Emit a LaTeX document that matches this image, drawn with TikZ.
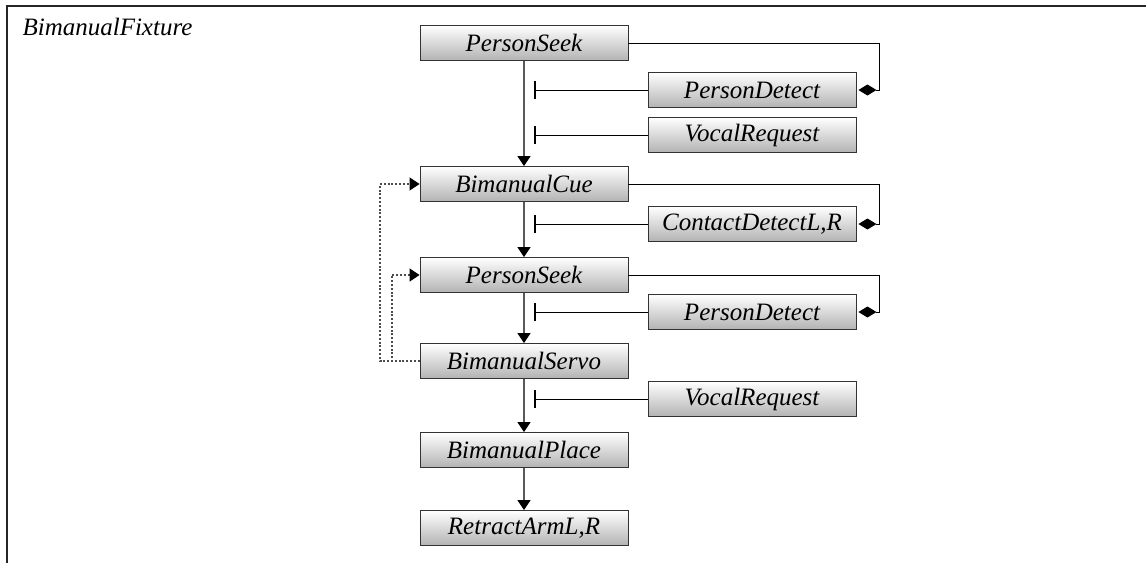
\documentclass[tikz,border=0pt]{standalone}
\usepackage{fontspec}
\setmainfont{Liberation Serif}
\usetikzlibrary{arrows.meta,calc}

\tikzset{
  stepbox/.style={draw=black!80, line width=0.9pt, top color=white, bottom color=black!30,
    minimum width=208pt, minimum height=35pt, inner sep=0pt,
    font=\fontsize{25}{30}\selectfont\itshape},
  seq/.style={draw=black!65, line width=1.2pt, -{Triangle[length=10pt,width=13pt,black]}},
  inhibit/.style={draw=black, line width=1pt, -{Bar[width=18pt,line width=2pt]}},
  attach/.style={draw=black, line width=1pt, -{Diamond[length=18pt,width=11pt,black]}, shorten >=2pt},
  retry/.style={draw=black!70, line width=1.2pt, dash pattern=on 2pt off 1.8pt,
    -{Triangle[length=10pt,width=13pt,black]}},
}

\begin{document}
\begin{tikzpicture}[x=1pt,y=-1pt]
  \useasboundingbox (0,0) rectangle (1146,563);

  % enclosing frame
  \draw[black!85, line width=1.4pt] (7,563) -- (7,6) -- (1146,6);
  \node[anchor=base west, font=\fontsize{25}{30}\selectfont\itshape] (title) at (19,35) {BimanualFixture};

  % main sequence
  \node[stepbox] (ps1) at (524,43) {PersonSeek};
  \node[stepbox] (bc)  at (524,184) {BimanualCue};
  \node[stepbox] (ps2) at (524,275) {PersonSeek};
  \node[stepbox] (bs)  at (524,361) {BimanualServo};
  \node[stepbox] (bp)  at (524,450) {BimanualPlace};
  \node[stepbox] (ra)  at (524,528) {RetractArmL,R};

  % monitors
  \node[stepbox] (pd1) at (752,90)  {PersonDetect};
  \node[stepbox] (vr1) at (752,135) {VocalRequest};
  \node[stepbox] (cd)  at (752,224) {ContactDetectL,R};
  \node[stepbox] (pd2) at (752,312) {PersonDetect};
  \node[stepbox] (vr2) at (752,399) {VocalRequest};

  \coordinate (bar) at (534,0);
  \coordinate (rx)  at (879,0);
  \coordinate (lx1) at (380,0);
  \coordinate (lx2) at (392,0);

  % transitions
  \draw[seq] (ps1.south) -- (bc.north);
  \draw[seq] (bc.south) -- (ps2.north);
  \draw[seq] (ps2.south) -- (bs.north);
  \draw[seq] (bs.south) -- (bp.north);
  \draw[seq] (bp.south) -- (ra.north);

  % inhibiting signals
  \draw[inhibit] (pd1.west) -- (pd1.west -| bar);
  \draw[inhibit] (vr1.west) -- (vr1.west -| bar);
  \draw[inhibit] (cd.west)  -- (cd.west -| bar);
  \draw[inhibit] (pd2.west) -- (pd2.west -| bar);
  \draw[inhibit] (vr2.west) -- (vr2.west -| bar);

  % monitor attachments
  \draw[attach] (ps1.east) -- (ps1.east -| rx) |- (pd1.east);
  \draw[attach] (bc.east)  -- (bc.east -| rx)  |- (cd.east);
  \draw[attach] (ps2.east) -- (ps2.east -| rx) |- (pd2.east);

  % fallback loops
  \draw[retry] (bs.west) -- (bs.west -| lx1) |- (bc.west);
  \draw[retry] (bs.west) -- (bs.west -| lx2) |- (ps2.west);
\end{tikzpicture}
\end{document}
